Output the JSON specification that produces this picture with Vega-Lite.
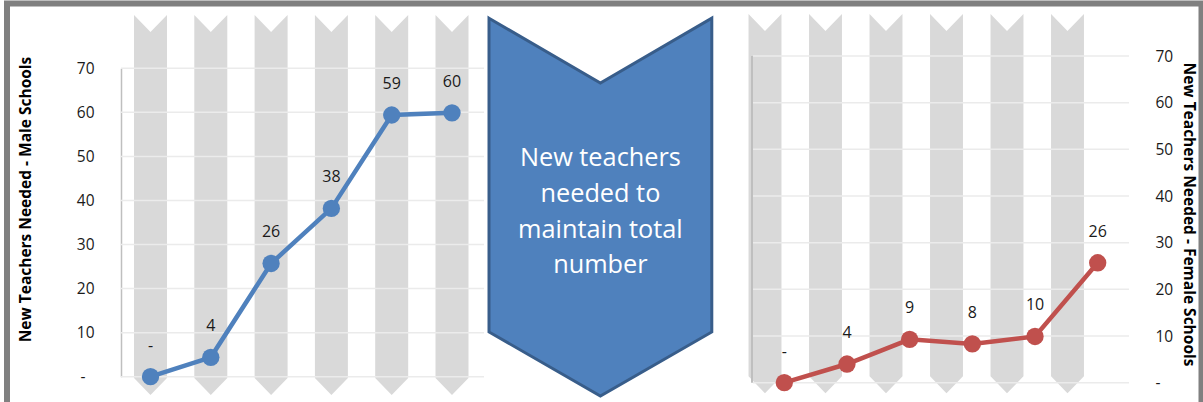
{
  "$schema": "https://vega.github.io/schema/vega-lite/v6.json",
  "width": 1203,
  "height": 402,
  "padding": 0,
  "autosize": {"type": "none"},
  "background": "white",
  "config": {"view": {"stroke": null}, "font": "Open Sans"},
  "datasets": {
    "male": [
      {"slot": 1, "value": 0, "label": "-"},
      {"slot": 2, "value": 4.4, "label": "4"},
      {"slot": 3, "value": 25.7, "label": "26"},
      {"slot": 4, "value": 38.2, "label": "38"},
      {"slot": 5, "value": 59.4, "label": "59"},
      {"slot": 6, "value": 59.9, "label": "60"}
    ],
    "female": [
      {"slot": 1, "value": 0, "label": "-"},
      {"slot": 2, "value": 4.0, "label": "4"},
      {"slot": 3, "value": 9.3, "label": "9"},
      {"slot": 4, "value": 8.3, "label": "8"},
      {"slot": 5, "value": 9.9, "label": "10"},
      {"slot": 6, "value": 25.7, "label": "26"}
    ],
    "grid": [
      {"tick": 0}, {"tick": 10}, {"tick": 20}, {"tick": 30},
      {"tick": 40}, {"tick": 50}, {"tick": 60}, {"tick": 70}
    ],
    "banner": [{"text": "New teachers\nneeded to\nmaintain total\nnumber"}],
    "frame": [{"id": 1}]
  },
  "layer": [
    {
      "data": {"name": "male"},
      "mark": {"type": "point", "shape": "M-0.0868,-1L0,-0.9105L0.0868,-1L0.0868,0.9105L0,1L-0.0868,0.9105Z", "size": 144400, "filled": true, "fill": "#D9D9D9", "opacity": 1, "strokeWidth": 0},
      "encoding": {
        "x": {"field": "slot", "type": "ordinal", "scale": {"type": "point", "range": [150.5, 452], "padding": 0}, "axis": null},
        "y": {"datum": 0.5, "type": "quantitative", "scale": {"domain": [0, 1], "range": [395, 15]}, "axis": null}
      }
    },
    {
      "data": {"name": "female"},
      "mark": {"type": "point", "shape": "M-0.0868,-1L0,-0.9105L0.0868,-1L0.0868,0.9105L0,1L-0.0868,0.9105Z", "size": 143868, "filled": true, "fill": "#D9D9D9", "opacity": 1, "strokeWidth": 0},
      "encoding": {
        "x": {"field": "slot", "type": "ordinal", "scale": {"type": "point", "range": [765, 1067.5], "padding": 0}, "axis": null},
        "y": {"datum": 0.5, "type": "quantitative", "scale": {"domain": [0, 1], "range": [393.3, 14]}, "axis": null}
      }
    },
    {
      "data": {"name": "grid"},
      "mark": {"type": "rule", "color": "#EBEBEB", "strokeWidth": 1.5},
      "encoding": {
        "x": {"datum": 0, "type": "quantitative", "scale": {"domain": [0, 1], "range": [121, 484]}, "axis": null},
        "x2": {"datum": 1},
        "y": {"field": "tick", "type": "quantitative", "scale": {"domain": [0, 70], "range": [376.7, 68.3], "nice": false, "zero": false}, "axis": null}
      }
    },
    {
      "data": {"name": "grid"},
      "mark": {"type": "rule", "color": "#EBEBEB", "strokeWidth": 1.5},
      "encoding": {
        "x": {"datum": 0, "type": "quantitative", "scale": {"domain": [0, 1], "range": [753, 1129]}, "axis": null},
        "x2": {"datum": 1},
        "y": {"field": "tick", "type": "quantitative", "scale": {"domain": [0, 70], "range": [382.7, 56], "nice": false, "zero": false}, "axis": null}
      }
    },
    {
      "data": {"name": "frame"},
      "mark": {"type": "rule", "color": "#BFBFBF", "strokeWidth": 2},
      "encoding": {
        "x": {"datum": 0, "type": "quantitative", "scale": {"domain": [0, 1], "range": [752, 1129]}, "axis": null},
        "y": {"datum": 0, "type": "quantitative", "scale": {"domain": [0, 70], "range": [382.7, 56], "nice": false, "zero": false}, "axis": null},
        "y2": {"datum": 70}
      }
    },
    {
      "data": {"name": "banner"},
      "mark": {"type": "point", "shape": "M-0.5897,-1L0,-0.657L0.5897,-1L0.5897,0.661L0,1L-0.5897,0.661Z", "size": 142733, "filled": true, "fill": "#4F81BD", "stroke": "#385D8A", "strokeWidth": 3, "opacity": 1},
      "encoding": {
        "x": {"datum": 0.5, "type": "quantitative", "scale": {"domain": [0, 1], "range": [489, 711.8]}, "axis": null},
        "y": {"datum": 0.5, "type": "quantitative", "scale": {"domain": [0, 1], "range": [396, 18.2]}, "axis": null}
      }
    },
    {
      "data": {"name": "banner"},
      "mark": {"type": "text", "lineBreak": "\n", "font": "Open Sans", "fontSize": 25.3, "lineHeight": 35.7, "color": "#FFFFFF", "align": "center", "baseline": "middle", "dy": -48.7},
      "encoding": {
        "x": {"datum": 0.5, "type": "quantitative", "scale": {"domain": [0, 1], "range": [489, 711.8]}, "axis": null},
        "y": {"datum": 0.5, "type": "quantitative", "scale": {"domain": [0, 1], "range": [396, 18.2]}, "axis": null},
        "text": {"field": "text", "type": "nominal"}
      }
    },
    {
      "data": {"name": "male"},
      "mark": {"type": "line", "color": "#4F81BD", "strokeWidth": 4.5, "point": {"filled": true, "size": 300, "color": "#4F81BD", "opacity": 1}},
      "encoding": {
        "x": {"field": "slot", "type": "ordinal", "scale": {"type": "point", "range": [150.5, 452], "padding": 0}, "axis": null},
        "y": {
          "field": "value", "type": "quantitative",
          "scale": {"domain": [0, 70], "range": [376.7, 68.3], "nice": false, "zero": false},
          "axis": {
            "orient": "left", "offset": -121, "grid": false, "ticks": false, "domain": true,
            "domainColor": "#BFBFBF", "domainWidth": 1.5,
            "values": [0, 10, 20, 30, 40, 50, 60, 70],
            "labelExpr": "datum.value == 0 ? '-' : datum.label",
            "labelPadding": {"condition": {"test": "datum.value == 0", "value": 36}, "value": 27},
            "labelFont": "Open Sans", "labelFontSize": 15.5, "labelColor": "#1A1A1A",
            "title": "New Teachers Needed - Male Schools", "titleFont": "Open Sans", "titleFontSize": 15.5,
            "titleFontWeight": "bold", "titleColor": "#000000", "titleAngle": -90,
            "titleX": -96, "titleY": 199, "titleAlign": "center", "titleBaseline": "middle"
          }
        }
      }
    },
    {
      "data": {"name": "male"},
      "mark": {"type": "text", "font": "Open Sans", "fontSize": 16, "color": "#1A1A1A", "align": "center", "baseline": "middle", "dy": -31},
      "encoding": {
        "x": {"field": "slot", "type": "ordinal", "scale": {"type": "point", "range": [150.5, 452], "padding": 0}, "axis": null},
        "y": {"field": "value", "type": "quantitative", "scale": {"domain": [0, 70], "range": [376.7, 68.3], "nice": false, "zero": false}, "axis": null},
        "text": {"field": "label", "type": "nominal"}
      }
    },
    {
      "data": {"name": "female"},
      "mark": {"type": "line", "color": "#C0504D", "strokeWidth": 4.5, "point": {"filled": true, "size": 300, "color": "#C0504D", "opacity": 1}},
      "encoding": {
        "x": {"field": "slot", "type": "ordinal", "scale": {"type": "point", "range": [784.3, 1097.7], "padding": 0}, "axis": null},
        "y": {
          "field": "value", "type": "quantitative",
          "scale": {"domain": [0, 70], "range": [382.7, 56], "nice": false, "zero": false},
          "axis": {
            "orient": "right", "offset": -74, "grid": false, "ticks": false, "domain": false,
            "values": [0, 10, 20, 30, 40, 50, 60, 70],
            "labelExpr": "datum.value == 0 ? '-' : datum.label",
            "labelPadding": 26, "labelFont": "Open Sans", "labelFontSize": 15.5, "labelColor": "#1A1A1A",
            "title": "New Teachers Needed - Female Schools", "titleFont": "Open Sans", "titleFontSize": 15.5,
            "titleFontWeight": "bold", "titleColor": "#000000", "titleAngle": 90,
            "titleX": 59, "titleY": 214, "titleAlign": "center", "titleBaseline": "middle"
          }
        }
      }
    },
    {
      "data": {"name": "female"},
      "mark": {"type": "text", "font": "Open Sans", "fontSize": 16, "color": "#1A1A1A", "align": "center", "baseline": "middle", "dy": -31},
      "encoding": {
        "x": {"field": "slot", "type": "ordinal", "scale": {"type": "point", "range": [784.3, 1097.7], "padding": 0}, "axis": null},
        "y": {"field": "value", "type": "quantitative", "scale": {"domain": [0, 70], "range": [382.7, 56], "nice": false, "zero": false}, "axis": null},
        "text": {"field": "label", "type": "nominal"}
      }
    },
    {
      "data": {"name": "frame"},
      "mark": {"type": "rect", "fill": null, "fillOpacity": 0, "stroke": "#808080", "strokeWidth": 6, "clip": true},
      "encoding": {
        "x": {"datum": 0, "type": "quantitative", "scale": {"domain": [0, 1], "range": [7, 1201.5]}, "axis": null},
        "x2": {"datum": 1},
        "y": {"datum": 0, "type": "quantitative", "scale": {"domain": [0, 1], "range": [3.5, 440]}, "axis": null},
        "y2": {"datum": 1}
      }
    }
  ],
  "resolve": {
    "scale": {"x": "independent", "y": "independent"},
    "axis": {"x": "independent", "y": "independent"}
  }
}
